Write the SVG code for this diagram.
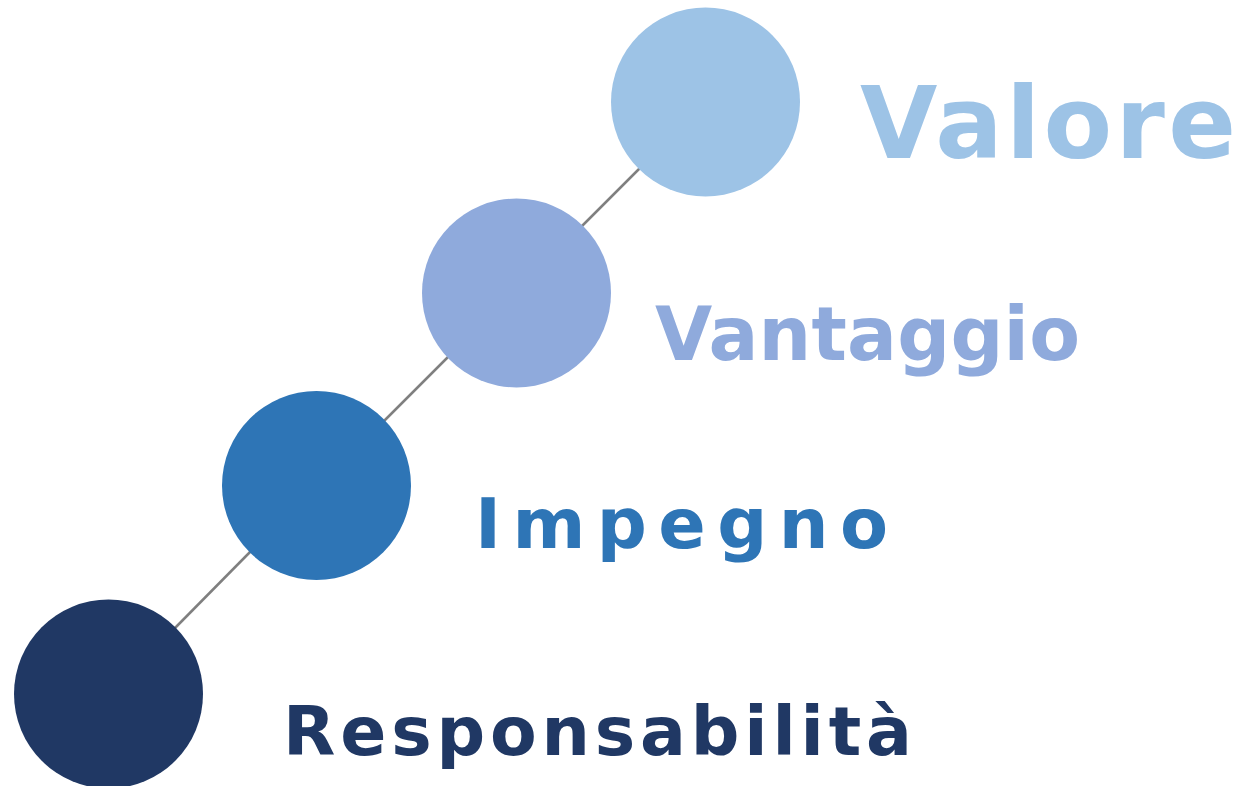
<svg xmlns="http://www.w3.org/2000/svg" width="1250" height="786" viewBox="0 0 1250 786">
<style>
.lbl{font-family:"DejaVu Sans","Liberation Sans",sans-serif;font-weight:bold}
.conn line{stroke:#7F7F7F;stroke-width:2.5}
</style>
<rect width="1250" height="786" fill="#FFFFFF"/>
<g class="conn" id="connectors">
<line x1="641" y1="167" x2="581" y2="227"/>
<line x1="450" y1="355" x2="384" y2="421"/>
<line x1="252" y1="550" x2="175" y2="628"/>
</g>
<g id="valore">
<circle cx="705.5" cy="102" r="94.5" fill="#9DC3E6"/>
<text class="lbl" x="860" y="158" font-size="100" fill="#9DC3E6" textLength="376" lengthAdjust="spacing">Valore</text>
</g>
<g id="vantaggio">
<circle cx="516.5" cy="293" r="94.5" fill="#8FAADC"/>
<text class="lbl" x="655" y="360" font-size="74" fill="#8FAADC" textLength="425" lengthAdjust="spacing">Vantaggio</text>
</g>
<g id="impegno">
<circle cx="316.5" cy="485.5" r="94.5" fill="#2E75B6"/>
<text class="lbl" x="475" y="548" font-size="70" fill="#2E75B6" textLength="413" lengthAdjust="spacing">Impegno</text>
</g>
<g id="responsabilita">
<circle cx="108.5" cy="694" r="94.5" fill="#203864"/>
<text class="lbl" x="283" y="755" font-size="68" fill="#203864" textLength="629" lengthAdjust="spacing">Responsabilità</text>
</g>
</svg>
